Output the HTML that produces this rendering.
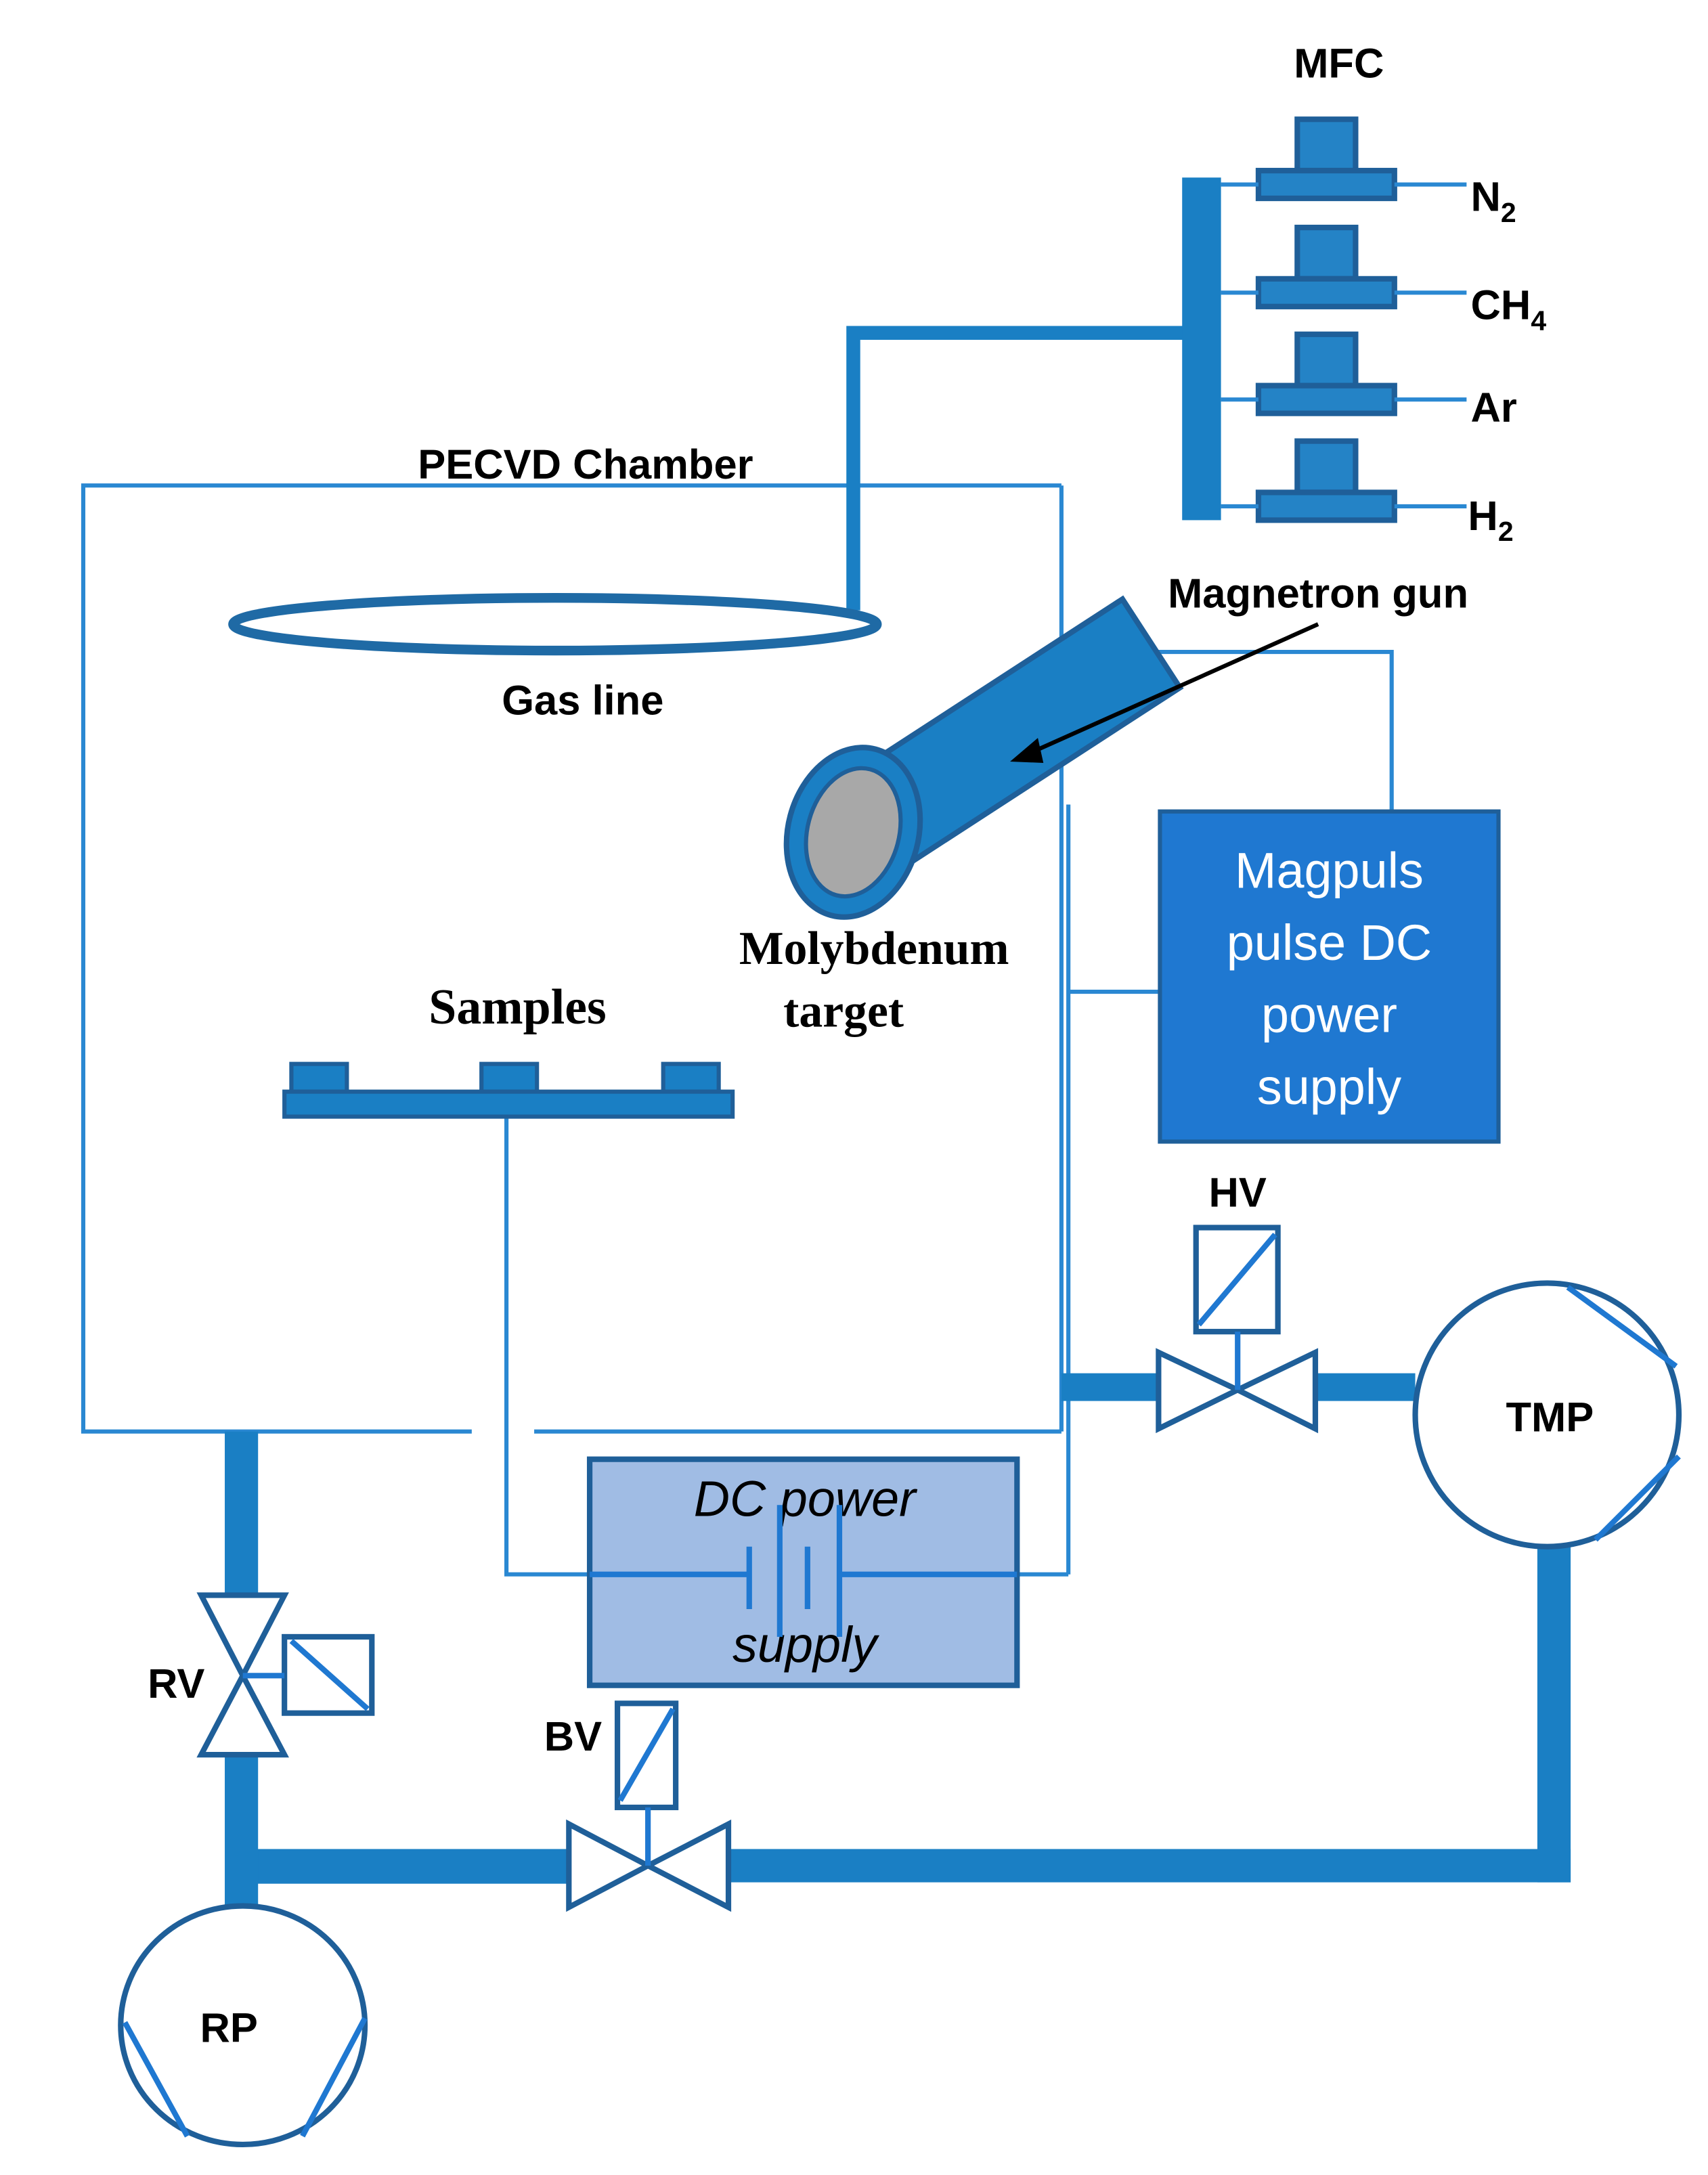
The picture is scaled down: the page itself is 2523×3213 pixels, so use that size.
<!DOCTYPE html>
<html><head><meta charset="utf-8"><style>
html,body{margin:0;padding:0;background:#fff}
svg{display:block}
text{font-family:"Liberation Sans",sans-serif;font-weight:bold;fill:#000}
.s{font-family:"Liberation Serif",serif}
</style></head><body>
<svg width="2523" height="3213" viewBox="0 0 1231 1568" preserveAspectRatio="none" xmlns="http://www.w3.org/2000/svg">
<g fill="none" stroke="#2a88d2" stroke-width="3">
<polyline points="765,350 60,350 60,1032 340,1032"/>
<line x1="385" y1="1032" x2="765" y2="1032"/>
<line x1="765" y1="350" x2="765" y2="1032"/>
<line x1="770" y1="580" x2="770" y2="1135"/>
<line x1="770" y1="715" x2="836" y2="715"/>
<polyline points="830,470 1003,470 1003,585"/>
<polyline points="365,805 365,1135 540,1135"/>
<line x1="605" y1="1135" x2="770" y2="1135"/>
</g>
<polyline points="855,240 615,240 615,440" fill="none" stroke="#1a7fc4" stroke-width="10"/>
<ellipse cx="400" cy="450" rx="232" ry="19" fill="none" stroke="#1f6aa5" stroke-width="7"/>
<rect x="852" y="128" width="28" height="247" fill="#1a7fc4"/>
<g stroke="#1f5f99" stroke-width="4" fill="#2483c6">
<rect x="935" y="86" width="42" height="37"/><rect x="907" y="123" width="98" height="20"/>
<rect x="935" y="164" width="42" height="37"/><rect x="907" y="201" width="98" height="20"/>
<rect x="935" y="241" width="42" height="37"/><rect x="907" y="278" width="98" height="20"/>
<rect x="935" y="318" width="42" height="37"/><rect x="907" y="355" width="98" height="20"/>
</g>
<g stroke="#2a88d2" stroke-width="3">
<line x1="880" y1="133" x2="907" y2="133"/><line x1="1005" y1="133" x2="1057" y2="133"/>
<line x1="880" y1="211" x2="907" y2="211"/><line x1="1005" y1="211" x2="1057" y2="211"/>
<line x1="880" y1="288" x2="907" y2="288"/><line x1="1005" y1="288" x2="1057" y2="288"/>
<line x1="880" y1="365" x2="907" y2="365"/><line x1="1005" y1="365" x2="1057" y2="365"/>
</g>
<text x="965" y="56" font-size="30" text-anchor="middle">MFC</text>
<text x="1060" y="152" font-size="30">N<tspan font-size="20" dy="8">2</tspan></text>
<text x="1060" y="230" font-size="30">CH<tspan font-size="20" dy="8">4</tspan></text>
<text x="1060" y="304" font-size="30">Ar</text>
<text x="1058" y="382" font-size="30">H<tspan font-size="20" dy="8">2</tspan></text>
<g transform="translate(620,600) rotate(-33)">
<rect x="0" y="-38" width="250" height="76" fill="#1a7fc4" stroke="#1f5f99" stroke-width="4"/>
</g>
<g transform="translate(615,600) rotate(15)">
<ellipse cx="0" cy="0" rx="47" ry="62" fill="#1a7fc4" stroke="#1f5f99" stroke-width="4"/>
<ellipse cx="0" cy="0" rx="33" ry="47" fill="#a8a8a8" stroke="#1f5f99" stroke-width="3"/>
</g>
<line x1="950" y1="450" x2="742" y2="543" stroke="#000" stroke-width="3"/>
<polygon points="728,549 748,532 752,550" fill="#000"/>
<text x="950" y="438" font-size="30" text-anchor="middle">Magnetron gun</text>
<rect x="836" y="585" width="244" height="238" fill="#1f78d1" stroke="#1f5f99" stroke-width="3"/>
<g font-size="36" text-anchor="middle">
<text x="958" y="640" style="fill:#fff;font-weight:normal">Magpuls</text>
<text x="958" y="692" style="fill:#fff;font-weight:normal">pulse DC</text>
<text x="958" y="744" style="fill:#fff;font-weight:normal">power</text>
<text x="958" y="796" style="fill:#fff;font-weight:normal">supply</text>
</g>
<g fill="#1a7fc4" stroke="#1f5f99" stroke-width="3">
<rect x="210" y="767" width="40" height="20"/><rect x="347" y="767" width="40" height="20"/><rect x="478" y="767" width="40" height="20"/>
<rect x="205" y="787" width="323" height="18"/>
</g>
<text class="s" x="373" y="738" font-size="36" text-anchor="middle">Samples</text>
<text class="s" x="630" y="695" font-size="34" text-anchor="middle">Molybdenum</text>
<text class="s" x="608" y="740" font-size="34" text-anchor="middle">target</text>
<text x="422" y="345" font-size="30" text-anchor="middle">PECVD Chamber</text>
<text x="420" y="515" font-size="30" text-anchor="middle">Gas line</text>
<rect x="425" y="1052" width="308" height="163" fill="#a0bce4" stroke="#1f5f99" stroke-width="4"/>
<text x="580" y="1093" font-size="36" text-anchor="middle" style="font-weight:normal;font-style:italic">DC power</text>
<text x="580" y="1198" font-size="36" text-anchor="middle" style="font-weight:normal;font-style:italic">supply</text>
<g stroke="#1f78d1" stroke-width="4">
<line x1="540" y1="1115" x2="540" y2="1160"/><line x1="562" y1="1085" x2="562" y2="1180"/>
<line x1="582" y1="1115" x2="582" y2="1160"/><line x1="605" y1="1085" x2="605" y2="1180"/>
<line x1="425" y1="1135" x2="540" y2="1135"/><line x1="605" y1="1135" x2="733" y2="1135"/>
</g>
<g fill="#1a7fc4">
<rect x="765" y="990" width="70" height="20"/>
<rect x="948" y="990" width="72" height="20"/>
<rect x="1108" y="1105" width="24" height="252"/>
<rect x="525" y="1333" width="607" height="24"/>
<rect x="175" y="1333" width="235" height="25"/>
<rect x="162" y="1032" width="24" height="118"/>
<rect x="162" y="1265" width="24" height="115"/>
</g>
<g fill="#fff" stroke="#1f5f99" stroke-width="4">
<polygon points="835,975 835,1030 892,1002"/><polygon points="948,975 948,1030 892,1002"/>
<rect x="862" y="885" width="59" height="75"/>
<polygon points="410,1315 410,1375 467,1345"/><polygon points="525,1315 525,1375 467,1345"/>
<rect x="445" y="1228" width="42" height="75"/>
<polygon points="145,1150 205,1150 175,1208"/><polygon points="145,1265 205,1265 175,1208"/>
<rect x="205" y="1180" width="63" height="55"/>
<circle cx="1115" cy="1020" r="95"/>
<ellipse cx="175" cy="1460" rx="88" ry="86"/>
</g>
<g stroke="#1f78d1" stroke-width="4">
<line x1="892" y1="960" x2="892" y2="1002"/><line x1="864" y1="955" x2="919" y2="890"/>
<line x1="467" y1="1303" x2="467" y2="1345"/><line x1="447" y1="1298" x2="485" y2="1232"/>
<line x1="175" y1="1208" x2="205" y2="1208"/><line x1="210" y1="1183" x2="265" y2="1232"/>
<line x1="1130" y1="928" x2="1208" y2="985"/><line x1="1210" y1="1050" x2="1150" y2="1110"/>
<line x1="90" y1="1458" x2="135" y2="1540"/><line x1="263" y1="1455" x2="218" y2="1540"/>
</g>
<text x="892" y="870" font-size="30" text-anchor="middle">HV</text>
<text x="1117" y="1032" font-size="30" text-anchor="middle">TMP</text>
<text x="413" y="1262" font-size="30" text-anchor="middle">BV</text>
<text x="127" y="1224" font-size="30" text-anchor="middle">RV</text>
<text x="165" y="1472" font-size="30" text-anchor="middle">RP</text>
</svg>
</body></html>
